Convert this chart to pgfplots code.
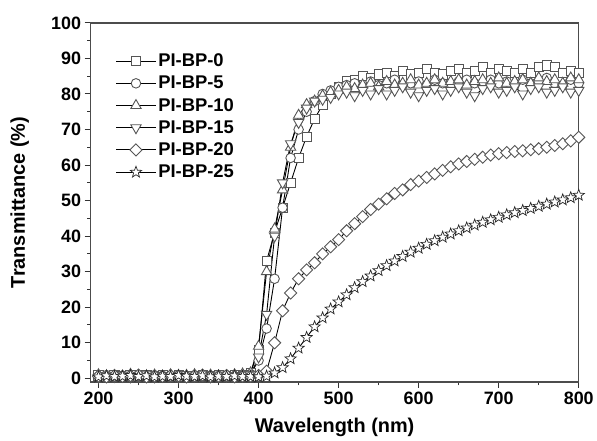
\documentclass[border=0pt]{standalone}
\usepackage{fontspec}
\setmainfont{Liberation Sans}
\usepackage{pgfplots}
\usepackage{pgfplotstable}
\pgfplotsset{compat=1.18}
\definecolor{markGray}{RGB}{85,85,85}

% five-pointed open star
\pgfdeclareplotmark{pstar}{%
  \pgfpathmoveto{\pgfqpointpolar{90}{\pgfplotmarksize}}%
  \pgfpathlineto{\pgfqpointpolar{126}{0.42\pgfplotmarksize}}%
  \pgfpathlineto{\pgfqpointpolar{162}{\pgfplotmarksize}}%
  \pgfpathlineto{\pgfqpointpolar{198}{0.42\pgfplotmarksize}}%
  \pgfpathlineto{\pgfqpointpolar{234}{\pgfplotmarksize}}%
  \pgfpathlineto{\pgfqpointpolar{270}{0.42\pgfplotmarksize}}%
  \pgfpathlineto{\pgfqpointpolar{306}{\pgfplotmarksize}}%
  \pgfpathlineto{\pgfqpointpolar{342}{0.42\pgfplotmarksize}}%
  \pgfpathlineto{\pgfqpointpolar{18}{\pgfplotmarksize}}%
  \pgfpathlineto{\pgfqpointpolar{54}{0.42\pgfplotmarksize}}%
  \pgfpathclose
  \pgfusepathqfillstroke}

% transmittance spectra, columns: wavelength, PI-BP-0 ... PI-BP-25
\pgfplotstableread{
x   s0   s5   s10  s15  s20  s25
200 0.8  0.5  1.0  0.3  0.6  0.4
210 0.5  0.9  0.6  0.7  0.4  0.7
220 1.0  0.4  0.8  0.5  0.8  0.5
230 0.6  0.8  0.5  0.9  0.5  0.6
240 0.9  0.6  1.1  0.4  0.7  0.8
250 0.4  1.0  0.7  0.6  0.9  0.5
260 0.8  0.5  0.5  1.0  0.4  0.7
270 0.6  0.9  0.9  0.4  0.6  0.4
280 1.0  0.7  0.6  0.8  0.5  0.6
290 0.5  0.4  1.0  0.6  0.8  0.5
300 0.9  0.8  0.5  0.3  0.7  0.8
310 0.7  0.6  0.8  1.0  0.4  0.6
320 0.4  0.9  1.0  0.6  0.7  0.5
330 0.8  0.5  0.6  0.8  0.9  0.7
340 0.6  0.8  0.9  0.4  0.5  0.4
350 1.0  0.4  0.7  0.9  0.6  0.6
360 0.5  0.9  0.5  0.6  0.8  0.5
370 0.8  0.6  1.0  0.7  0.4  0.7
380 0.9  1.0  1.2  0.8  0.6  0.5
390 1.5  1.2  1.5  1.0  0.6  0.5
400 8    5    9    6    0.8  0.4
410 33   14   30   18   2    0.6
420 41   28   42   40   10   1.5
430 48   48   53   55   19   3
440 55   62   65   66   24   5.5
450 62   70   74   72   28   8.5
460 68   75   77   76   30.5 11.5
470 73   78   78   78   32.5 14.5
480 77   80   79.5 78.5 35   17
490 80   81   80.5 79   37   19.5
500 82   82   81   80   39   21.5
510 83.5 82.5 82   80.5 41.5 23.5
520 84   83   81.5 79.5 43.5 25.5
530 85   82   82.5 81   45.5 27.2
540 84.5 83.5 83   80   47.5 28.8
550 85.5 82.5 82   81.5 49   30.3
560 86   83   83.5 80   50.5 31.7
570 85   84   82.5 81   52   33
580 86.5 82.5 83   82   53   34.3
590 85.5 83   84   80.5 54.5 35.5
600 86   83.5 82.5 79.5 55.5 36.6
610 87   82.5 83   81   56.5 37.7
620 86   84   84   81.5 57.5 38.7
630 85.5 83   83   80   58.5 39.7
640 86.5 82.5 83.5 81   59.5 40.6
650 87   83.5 84   82   60.3 41.5
660 86   84   82.5 80.5 61   42.3
670 86.5 83   83.5 79.5 61.6 43.1
680 87.5 82.5 84   81.5 62.2 43.9
690 86   84   83   82   62.8 44.6
700 87   83   84.5 80.5 63.2 45.3
710 86.5 83.5 83   81   63.5 46
720 86   82.5 83.5 82   63.8 46.6
730 87   84   84   80   64   47.2
740 86   83   83   81.5 64.3 47.8
750 87.5 83.5 84.5 82   64.6 48.4
760 88   84.5 83.5 80.5 65   49
770 87.5 83   84   81   65.5 49.6
780 86   82.5 83   82   66   50.2
790 86.5 84   84.5 80.5 66.8 50.8
800 86   83   84   81   67.8 51.5
}\spectra

\begin{document}
\begin{tikzpicture}
\begin{axis}[
  name=main,
  scale only axis,
  width=491pt, height=361pt,
  xmin=190, xmax=800,
  ymin=-1, ymax=100,
  xtick={200,300,...,800},
  ytick={0,10,...,100},
  minor tick num=1,
  tick align=outside,
  tick pos=left,
  major tick length=6pt,
  minor tick length=3.5pt,
  tick style={black!80, line width=1pt},
  axis line style={black!70, line width=1.4pt},
  /pgf/number format/assume math mode=true,
  tick label style={font=\fontsize{18}{18}\selectfont\bfseries},
  xticklabel style={yshift=-1pt},
  xlabel={Wavelength (nm)},
  ylabel={Transmittance (\%)},
  every axis x label/.style={at={(axis description cs:0.5,-0.127)}, anchor=center,
                             font=\fontsize{20}{20}\selectfont\bfseries},
  every axis y label/.style={at={(axis description cs:-0.145,0.5)}, anchor=center, rotate=90,
                             font=\fontsize{20}{20}\selectfont\bfseries},
  every axis plot/.append style={line width=0.9pt, black},
  mk/.style={mark options={solid, fill=white, draw=markGray, line width=0.9pt, #1}},
  mk/.default={},
  legend style={at={(0.045,0.925)}, anchor=north west, draw=none, fill=none,
                font=\fontsize{18.5}{18.5}\selectfont\bfseries,
                row sep=4pt},
  legend cell align=left,
  legend image code/.code={
    \draw[mark repeat=2, mark phase=2]
      plot coordinates {(0pt,0pt) (20pt,0pt) (40pt,0pt)};},
]
\addplot[mark=square*, mark size=4.6pt, mk] table[x=x, y=s0] {\spectra};
\addlegendentry{PI-BP-0}
\addplot[mark=*, mark size=4.8pt, mk] table[x=x, y=s5] {\spectra};
\addlegendentry{PI-BP-5}
\addplot[mark=triangle*, mark size=6pt, mk] table[x=x, y=s10] {\spectra};
\addlegendentry{PI-BP-10}
\addplot[mark=triangle*, mark size=6pt, mk={rotate=180}] table[x=x, y=s15] {\spectra};
\addlegendentry{PI-BP-15}
\addplot[mark=square*, mark size=4.3pt, mk={rotate=45}] table[x=x, y=s20] {\spectra};
\addlegendentry{PI-BP-20}
\addplot[mark=pstar, mark size=6pt, mk={draw=black!85, line width=0.7pt}] table[x=x, y=s25] {\spectra};
\addlegendentry{PI-BP-25}
\end{axis}
\path ([xshift=-91pt, yshift=-57pt]main.south west)
  rectangle ([xshift=15pt, yshift=23pt]main.north east);
\end{tikzpicture}
\end{document}
